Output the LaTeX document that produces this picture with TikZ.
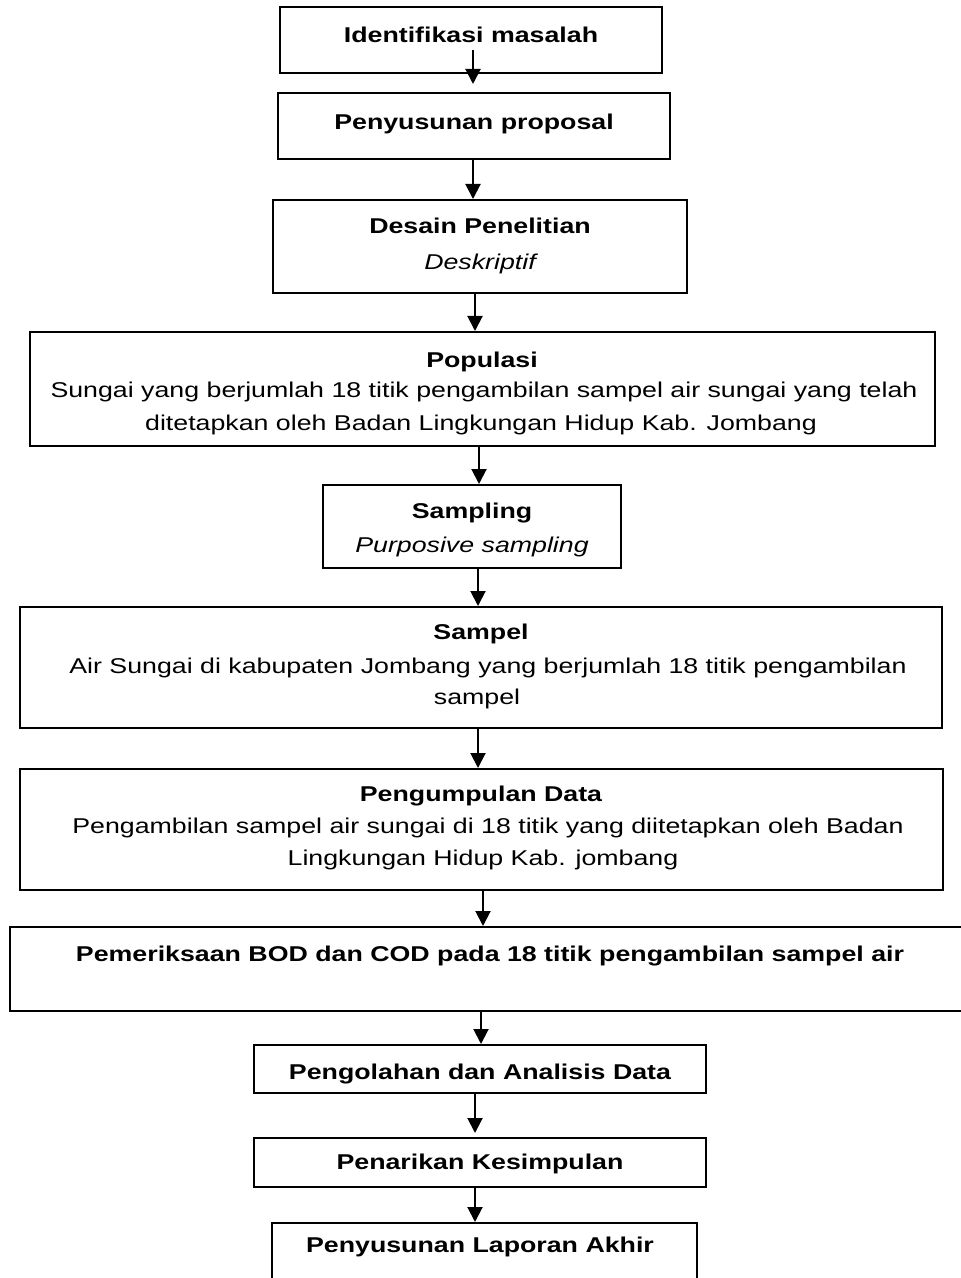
\documentclass[tikz,border=0pt]{standalone}
\usepackage{fontspec}
\setmainfont{Liberation Sans}[FakeStretch=1.25]
\usetikzlibrary{arrows.meta}

\newcommand{\flowfont}{\fontsize{10.7pt}{12pt}\selectfont}

\tikzset{
  box/.style={draw, line width=1pt, inner sep=0pt},
  ttl/.style={anchor=base, font=\flowfont\bfseries},
  txt/.style={anchor=base, font=\flowfont},
  ital/.style={anchor=base, font=\flowfont\itshape},
  arr/.style={line width=1pt, -{Triangle[length=7.5pt,width=7.5pt]}}
}

\begin{document}
\begin{tikzpicture}[x=0.5pt,y=-0.5pt]
  \useasboundingbox (0,0) rectangle (961,1278);

  % boxes
  \node[box, minimum width=191pt, minimum height=33pt] (b1) at (471,40) {};
  \node[box, minimum width=196pt, minimum height=33pt] (b2) at (474,126) {};
  \node[box, minimum width=207pt, minimum height=46.5pt] (b3) at (480,246.5) {};
  \node[box, minimum width=452.5pt, minimum height=57pt] (b4) at (482.5,389) {};
  \node[box, minimum width=149pt, minimum height=41.5pt] (b5) at (472,526.5) {};
  \node[box, minimum width=461pt, minimum height=60.5pt] (b6) at (481,667.5) {};
  \node[box, minimum width=461.5pt, minimum height=60.5pt] (b7) at (481.5,829.5) {};
  \node[box, minimum width=485pt, minimum height=42pt] (b8) at (495,969) {};
  \node[box, minimum width=226pt, minimum height=24pt] (b9) at (480,1069) {};
  \node[box, minimum width=226pt, minimum height=24.5pt] (b10) at (480,1162.5) {};
  \node[box, minimum width=212.5pt, minimum height=38.5pt] (b11) at (484.5,1261.5) {};

  % texts
  \node[ttl] (t1) at (471,43) {Identifikasi masalah};
  \node[ttl] (t2) at (474,130) {Penyusunan proposal};
  \node[ttl] (t3) at (480,234) {Desain Penelitian};
  \node[ital] (t3b) at (480,270) {Deskriptif};
  \node[ttl] (t4) at (482,367) {Populasi};
  \node[txt] (t4b) at (484,397) {Sungai yang berjumlah 18 titik pengambilan sampel air sungai yang telah};
  \node[txt] (t4c) at (481,430) {ditetapkan oleh Badan Lingkungan Hidup Kab. Jombang};
  \node[ttl] (t5) at (472,518) {Sampling};
  \node[ital] (t5b) at (472,552) {Purposive sampling};
  \node[ttl] (t6) at (481,639) {Sampel};
  \node[txt] (t6b) at (488,673) {Air Sungai di kabupaten Jombang yang berjumlah 18 titik pengambilan};
  \node[txt] (t6c) at (477,704) {sampel};
  \node[ttl] (t7) at (481,801) {Pengumpulan Data};
  \node[txt] (t7b) at (488,833) {Pengambilan sampel air sungai di 18 titik yang diitetapkan oleh Badan};
  \node[txt] (t7c) at (483,865) {Lingkungan Hidup Kab. jombang};
  \node[ttl] (t8) at (490,961) {Pemeriksaan BOD dan COD pada 18 titik pengambilan sampel air};
  \node[ttl] (t9) at (480,1079) {Pengolahan dan Analisis Data};
  \node[ttl] (t10) at (480,1169) {Penarikan Kesimpulan};
  \node[ttl] (t11) at (480,1252) {Penyusunan Laporan Akhir};

  % arrows
  \coordinate (c1) at (473,0);
  \coordinate (c3) at (475,0);
  \coordinate (c4) at (479,0);
  \coordinate (c5) at (478,0);
  \coordinate (c7) at (483,0);
  \coordinate (c8) at (481,0);
  \draw[arr, shorten >=4pt] (t1.south -| c1) -- (b2.north -| c1);
  \draw[arr] (b2.south -| c1) -- (b3.north -| c1);
  \draw[arr] (b3.south -| c3) -- (b4.north -| c3);
  \draw[arr] (b4.south -| c4) -- (b5.north -| c4);
  \draw[arr] (b5.south -| c5) -- (b6.north -| c5);
  \draw[arr] (b6.south -| c5) -- (b7.north -| c5);
  \draw[arr] (b7.south -| c7) -- (b8.north -| c7);
  \draw[arr] (b8.south -| c8) -- (b9.north -| c8);
  \draw[arr, shorten >=2pt] (b9.south -| c3) -- (b10.north -| c3);
  \draw[arr] (b10.south -| c3) -- (b11.north -| c3);
\end{tikzpicture}
\end{document}
